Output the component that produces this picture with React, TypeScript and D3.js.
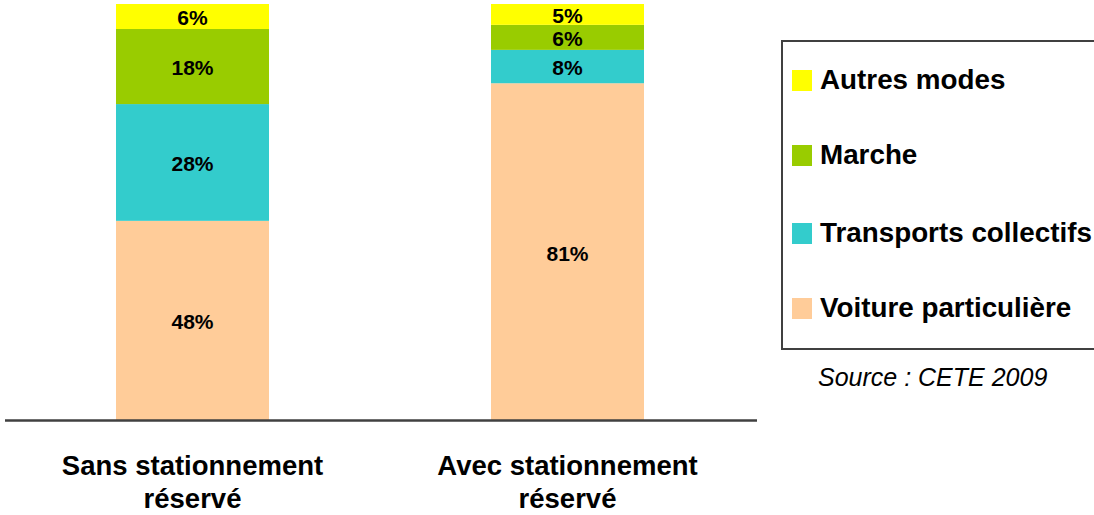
import * as d3 from "d3"

const categories = ["Sans stationnement|réservé", "Avec stationnement|réservé"]
const seriesNames = ["Voiture particulière", "Transports collectifs", "Marche", "Autres modes"]
const voiture = [48, 81]
const transports = [28, 8]
const marche = [18, 6]
const autres = [6, 5]
const colors = ["#FFCC99", "#33CCCC", "#99CC00", "#FFFF00"]
const sourceText = "Source : CETE 2009"

const W = 1094
const H = 515
const FONT = "'Liberation Sans', Arial, sans-serif"

export default function App() {
  const x = d3
    .scaleBand()
    .domain(categories)
    .range([5, 755])
    .paddingInner(0.592)
    .paddingOuter(0.296)

  const y = d3.scaleLinear().domain([0, 100]).range([421, 4])

  const rows = categories.map((c, i) => ({
    cat: c,
    s0: voiture[i],
    s1: transports[i],
    s2: marche[i],
    s3: autres[i],
  }))
  const stack = d3.stack<any>().keys(["s0", "s1", "s2", "s3"])(rows)

  const legendOrder = [3, 2, 1, 0]
  const legendBaselines = [89, 164, 242, 317]

  return (
    <svg
      width={W}
      height={H}
      style={{ position: "absolute", left: 0, top: 0, background: "#fff" }}
      fontFamily={FONT}
    >
      {stack.map((layer, li) => (
        <g key={li} fill={colors[li]}>
          {layer.map((d, i) => {
            const y0 = y(d[0])
            const y1 = y(d[1])
            const cx = x(categories[i])! + x.bandwidth() / 2
            return (
              <g key={i}>
                <rect x={x(categories[i])} y={y1} width={x.bandwidth()} height={y0 - y1} />
                <text
                  x={cx}
                  y={(y0 + y1) / 2 + 1}
                  textAnchor="middle"
                  dominantBaseline="central"
                  fontSize={21}
                  fontWeight="bold"
                  fill="#000"
                >
                  {d[1] - d[0]}%
                </text>
              </g>
            )
          })}
        </g>
      ))}

      <line x1={5} x2={757} y1={420.5} y2={420.5} stroke="#404040" strokeWidth={2.5} />

      {categories.map((c) => {
        const cx = x(c)! + x.bandwidth() / 2
        const parts = c.split("|")
        return (
          <text key={c} x={cx} textAnchor="middle" fontSize={27.5} fontWeight="bold" fill="#000">
            {parts.map((p, j) => (
              <tspan key={j} x={cx} y={475 + j * 33}>
                {p}
              </tspan>
            ))}
          </text>
        )
      })}

      <rect x={782} y={41} width={330} height={308} fill="none" stroke="#404040" strokeWidth={2} />
      {legendOrder.map((si, k) => (
        <g key={si}>
          <rect x={792} y={legendBaselines[k] - 19} width={20} height={21} fill={colors[si]} />
          <text x={820} y={legendBaselines[k]} fontSize={27.8} fontWeight="bold" fill="#000">
            {seriesNames[si]}
          </text>
        </g>
      ))}

      <text x={818} y={386} fontSize={25} fontStyle="italic" fill="#000">
        {sourceText}
      </text>
    </svg>
  )
}
